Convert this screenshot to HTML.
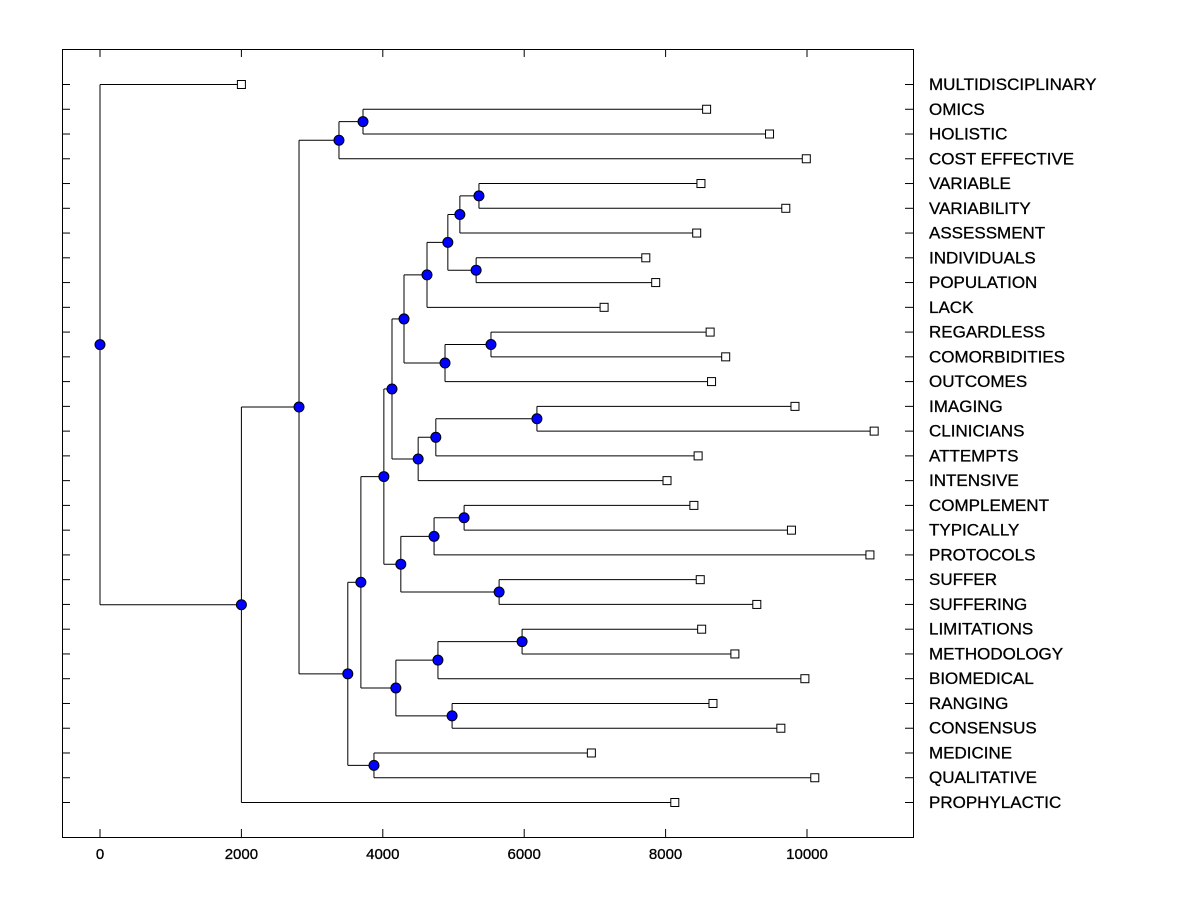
<!DOCTYPE html>
<html><head><meta charset="utf-8"><style>
body{margin:0;background:#fff}
text{font-family:"Liberation Sans",Arial,sans-serif}
</style></head><body>
<svg id="chart" width="1200" height="900" xmlns="http://www.w3.org/2000/svg">
<rect x="62.5" y="49.5" width="851" height="788" fill="none" stroke="#000" stroke-width="1"/>
<g id="g"></g>
</svg>
<script>
const leafLabels=["MULTIDISCIPLINARY","OMICS","HOLISTIC","COST EFFECTIVE","VARIABLE","VARIABILITY","ASSESSMENT","INDIVIDUALS","POPULATION","LACK","REGARDLESS","COMORBIDITIES","OUTCOMES","IMAGING","CLINICIANS","ATTEMPTS","INTENSIVE","COMPLEMENT","TYPICALLY","PROTOCOLS","SUFFER","SUFFERING","LIMITATIONS","METHODOLOGY","BIOMEDICAL","RANGING","CONSENSUS","MEDICINE","QUALITATIVE","PROPHYLACTIC"];
const leafValues=[2000,8580,9470,9990,8500,9700,8440,7720,7860,7130,8630,8850,8650,9830,10950,8460,8020,8400,9780,10890,8490,9290,8510,8980,9970,8670,9630,6950,10110,8130];
// internal nodes: [name, height, child1, child2]; children are leaf indices (numbers) or node names
const nodeNames=["root","A","B","C","E","D","G","F","I","J","L","K","H","N","O","Q","P","M","S","T","U","R","W","X","V","Y","Z","BB","AA"];
const nodeHeights=[0,2000,2815,3380,3720,3505,3875,3690,4185,4780,5970,4980,4015,4255,4725,5150,5645,4130,4500,4750,6180,4300,4880,5530,4625,4920,5090,5360,5320];
const nodeChildren=[[0,"A"],["B",29],["C","D"],["E",3],[1,2],["F","G"],[27,28],["H","I"],["J","K"],["L",24],[22,23],[25,26],["M","N"],["O","P"],["Q",19],[17,18],[20,21],["R","S"],["T",16],["U",15],[13,14],["V","W"],["X",12],[10,11],["Y",9],["Z","AA"],["BB",6],[4,5],[7,8]];
const xTicks=[0,2000,4000,6000,8000,10000];

const X=v=>100+v*0.0707, Y=i=>84+i*(802-84)/29;
const NS="http://www.w3.org/2000/svg", g=document.getElementById('g');
function mk(t,a){const e=document.createElementNS(NS,t);for(const k in a)e.setAttribute(k,a[k]);g.appendChild(e);return e;}
xTicks.forEach(v=>{
 const a=mk('line',{x1:X(v),x2:X(v),y1:49,y2:57,stroke:'#000'});
 
 const b=mk('line',{x1:X(v),x2:X(v),y1:837,y2:829,stroke:'#000'});
 
 const t=mk('text',{x:X(v),y:859,'text-anchor':'middle','font-size':15,'stroke':'#000','stroke-width':0.3});t.textContent=v;
 
});
leafLabels.forEach((l,i)=>{
 const a=mk('line',{x1:62,x2:70,y1:Y(i)+.5,y2:Y(i)+.5,stroke:'#000'});
 
 const b=mk('line',{x1:905,x2:913,y1:Y(i)+.5,y2:Y(i)+.5,stroke:'#000'});
 
 const t=mk('text',{x:929,y:Y(i)+6,'font-size':17,'stroke':'#000','stroke-width':0.3});t.textContent=l;
 
});
const idx={};nodeNames.forEach((n,i)=>idx[n]=i);
const pos={};
function place(c){
 if(typeof c==='number')return {x:X(leafValues[c]),y:Y(c)};
 if(pos[c])return pos[c];
 const i=idx[c],ch=nodeChildren[i].map(place);
 pos[c]={x:X(nodeHeights[i]),y:(ch[0].y+ch[1].y)/2,ch};return pos[c];
}
place("root");
const dots=[];
nodeNames.forEach(n=>{
 const p=pos[n];
 const v=mk('line',{x1:p.x,x2:p.x,y1:p.ch[0].y+.5,y2:p.ch[1].y+.5,stroke:'#000'});
 
 p.ch.forEach(c=>{const h=mk('line',{x1:p.x,x2:c.x,y1:c.y+.5,y2:c.y+.5,stroke:'#000'});
 });
 dots.push(p);
});
leafLabels.forEach((l,i)=>{
 const r=mk('rect',{x:X(leafValues[i])-4,y:Y(i)-3.5,width:8,height:8,fill:'#fff',stroke:'#000'});
 
});
dots.forEach(p=>{
 const c=mk('circle',{cx:p.x,cy:p.y+.5,r:5,fill:'#0000ff',stroke:'#000'});
 
});
</script>
</body></html>
